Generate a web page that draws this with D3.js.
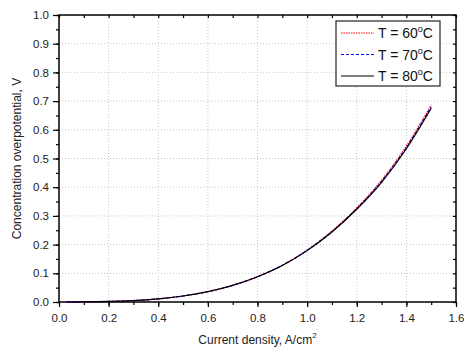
<!DOCTYPE html>
<html>
<head>
<meta charset="utf-8">
<title>Concentration overpotential</title>
<script src="https://d3js.org/d3.v7.min.js"></script>
<style>
  body { margin: 0; background: #fff; }
  text { font-family: "Liberation Sans", Arial, sans-serif; }
</style>
</head>
<body>
<script>
// current density, A/cm2
var current = [0.03, 0.1, 0.2, 0.3, 0.4, 0.5, 0.6, 0.7, 0.8, 0.9, 1.0, 1.1, 1.2, 1.3, 1.4, 1.5];
// concentration overpotential, V
var t60 = [0.000, 0.0005, 0.002, 0.005, 0.011, 0.021, 0.036, 0.058, 0.088, 0.128, 0.181, 0.247, 0.328, 0.424, 0.543, 0.686];
var t70 = [0.000, 0.0005, 0.002, 0.005, 0.011, 0.021, 0.036, 0.058, 0.088, 0.128, 0.180, 0.245, 0.325, 0.420, 0.538, 0.680];
var t80 = [0.000, 0.0005, 0.002, 0.005, 0.011, 0.021, 0.036, 0.058, 0.088, 0.127, 0.179, 0.244, 0.323, 0.417, 0.534, 0.675];
var xTicks = [0, 0.2, 0.4, 0.6, 0.8, 1.0, 1.2, 1.4, 1.6];
var yTicks = [0, 0.1, 0.2, 0.3, 0.4, 0.5, 0.6, 0.7, 0.8, 0.9, 1.0];
var seriesNames = ["60", "70", "80"];

var W = 464, H = 356;
var pL = 59, pR = 456, pT = 15, pB = 302;

var svg = d3.select("body").append("svg")
    .attr("width", W)
    .attr("height", H);

var x = d3.scaleLinear().domain([0, 1.6]).range([pL, pR]);
var y = d3.scaleLinear().domain([0, 1.0]).range([pB, pT]);

// grid
svg.append("g").selectAll("line")
    .data(xTicks.slice(1, -1))
    .enter().append("line")
    .attr("x1", function(d) { return x(d); })
    .attr("x2", function(d) { return x(d); })
    .attr("y1", pT).attr("y2", pB)
    .attr("stroke", "#c8c8c8").attr("stroke-dasharray", "1,2");
svg.append("g").selectAll("line")
    .data(yTicks.slice(1, -1))
    .enter().append("line")
    .attr("y1", function(d) { return y(d); })
    .attr("y2", function(d) { return y(d); })
    .attr("x1", pL).attr("x2", pR)
    .attr("stroke", "#c8c8c8").attr("stroke-dasharray", "1,2");

var xMinor = d3.range(0, 17).map(function(i) { return i / 10; });
var yMinor = d3.range(0, 21).map(function(i) { return i / 20; });

// axes
function tickStyle(g) {
    g.select(".domain").remove();
    g.selectAll(".tick line").attr("stroke", "#000").attr("stroke-width", 1.2);
    g.selectAll(".tick text").attr("font-size", 11.5).attr("fill", "#222")
        .attr("font-family", "Liberation Sans, Arial, sans-serif");
}

svg.append("g").attr("transform", "translate(0," + pB + ")")
    .call(d3.axisBottom(x).tickValues(xMinor).tickSize(3).tickFormat(""))
    .call(tickStyle);
svg.append("g").attr("transform", "translate(0," + pB + ")")
    .call(d3.axisBottom(x).tickValues(xTicks).tickSize(5).tickPadding(7).tickFormat(d3.format(".1f")))
    .call(tickStyle);
svg.append("g").attr("transform", "translate(" + pL + ",0)")
    .call(d3.axisLeft(y).tickValues(yMinor).tickSize(3).tickFormat(""))
    .call(tickStyle);
svg.append("g").attr("transform", "translate(" + pL + ",0)")
    .call(d3.axisLeft(y).tickValues(yTicks).tickSize(6).tickPadding(4).tickFormat(d3.format(".1f")))
    .call(tickStyle);
svg.append("g").attr("transform", "translate(0," + pT + ")")
    .call(d3.axisBottom(x).tickValues(xMinor).tickSize(3).tickFormat(""))
    .call(tickStyle);
svg.append("g").attr("transform", "translate(" + pR + ",0)")
    .call(d3.axisRight(y).tickValues(yMinor).tickSize(-3).tickFormat(""))
    .call(tickStyle);

// frame
svg.append("rect")
    .attr("x", pL).attr("y", pT)
    .attr("width", pR - pL).attr("height", pB - pT)
    .attr("fill", "none").attr("stroke", "#000").attr("stroke-width", 1.5);

// curves
var line = d3.line()
    .x(function(d, i) { return x(current[i]); })
    .y(function(d) { return y(d); })
    .curve(d3.curveMonotoneX);

var styles = [
    { data: t60, color: "#ff0000", dash: "1.5,1" },
    { data: t70, color: "#0000ff", dash: "3,2" },
    { data: t80, color: "#000000", dash: null }
];

svg.append("g").selectAll("path")
    .data(styles)
    .enter().append("path")
    .attr("d", function(d) { return line(d.data); })
    .attr("fill", "none")
    .attr("stroke", function(d) { return d.color; })
    .attr("stroke-width", 1.2)
    .attr("stroke-dasharray", function(d) { return d.dash; });

// legend
var lg = svg.append("g");
lg.append("rect")
    .attr("x", 336).attr("y", 21).attr("width", 104).attr("height", 65)
    .attr("fill", "#fff").attr("stroke", "#333").attr("stroke-width", 1.3);
var item = lg.selectAll("g.item")
    .data(styles)
    .enter().append("g")
    .attr("transform", function(d, i) { return "translate(0," + (33 + i * 21.5) + ")"; });
item.append("line")
    .attr("x1", 341).attr("x2", 374)
    .attr("stroke", function(d) { return d.color; })
    .attr("stroke-width", 1.2)
    .attr("stroke-dasharray", function(d) { return d.dash; });
var lt = item.append("text")
    .attr("x", 378).attr("y", 5)
    .attr("font-size", 14).attr("fill", "#111");
lt.append("tspan").text(function(d, i) { return "T = " + seriesNames[i]; });
lt.append("tspan").attr("font-size", 9).attr("dy", -6).text("o");
lt.append("tspan").attr("dy", 6).text("C");

// axis titles
var xt = svg.append("text")
    .attr("x", (pL + pR) / 2).attr("y", 344)
    .attr("text-anchor", "middle").attr("font-size", 12).attr("fill", "#222");
xt.append("tspan").text("Current density, A/cm");
xt.append("tspan").attr("font-size", 8).attr("dy", -6).text("2");

svg.append("text")
    .attr("transform", "translate(21," + ((pT + pB) / 2) + ") rotate(-90)")
    .attr("text-anchor", "middle").attr("font-size", 12).attr("fill", "#222")
    .text("Concentration overpotential, V");
</script>
</body>
</html>
